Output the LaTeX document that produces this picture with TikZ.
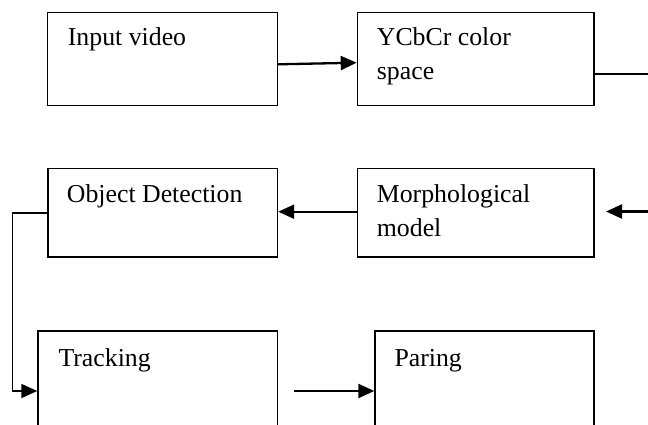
\documentclass[tikz,border=0pt]{standalone}
\usepackage{fontspec}
\setmainfont{Liberation Serif}
\usetikzlibrary{arrows.meta,calc}

\begin{document}
\begin{tikzpicture}[x=1pt,y=-1pt,
  box/.style={draw=black, line width=1.5pt, rectangle, inner sep=0pt, anchor=north west},
  lbl/.style={anchor=base west, inner sep=0pt, font=\fontsize{25.8}{34}\selectfont},
  tip/.style={-{Triangle[length=16pt,width=14pt]}},
  arr/.style={tip, line width=2.3pt},
  plain/.style={line width=1.5pt}]

\useasboundingbox (0,0) rectangle (648,425);
\clip (0,0) rectangle (648,425);

% process boxes
\node[box, minimum width=230pt,   minimum height=93.3pt] (b1) at (46.7,11.7)  {};
\node[box, minimum width=236.6pt, minimum height=93.3pt] (b2) at (356.7,11.7) {};
\node[box, minimum width=229.4pt, minimum height=88pt]   (b3) at (47.3,168)   {};
\node[box, minimum width=236.6pt, minimum height=88pt]   (b4) at (356.7,168)  {};
\node[box, minimum width=239.4pt, minimum height=130pt]  (b5) at (37.3,330)   {};
\node[box, minimum width=219pt,   minimum height=130pt]  (b6) at (374.3,330)  {};

% box captions
\node[lbl] (t1) at ($(b1.north west)+(21,34)$) {Input video};
\node[lbl] (t2) at ($(b2.north west)+(20,34)$) {\vtop{\hbox{YCbCr color}\hbox{space}}};
\node[lbl] (t3) at ($(b3.north west)+(19.4,34)$) {Object Detection};
\node[lbl] (t4) at ($(b4.north west)+(20,34)$) {\vtop{\hbox{Morphological}\hbox{model}}};
\node[lbl] (t5) at ($(b5.north west)+(21,36)$) {Tracking};
\node[lbl] (t6) at ($(b6.north west)+(20,36)$) {Paring};

% free ends and bends of the connectors
\coordinate (outR)  at (648,74);
\coordinate (inR)   at (648,211.5);
\coordinate (inRtip) at (606,211.5);
\coordinate (bendA) at (12.7,213);
\coordinate (bendB) at (12.7,391);
\coordinate (trOut) at (294.3,391);

% connectors
\draw[arr] ($(b1.north east)+(0,52.6)$) -- ($(b2.north west)+(0,51)$);
\draw[plain] ($(b2.north east)+(0,62.3)$) -- (outR);
\draw[arr] (inR) -- (inRtip);
\draw[arr] ($(b4.north west)+(0,43.7)$) -- ($(b3.north east)+(0,43.7)$);
\draw[plain, tip] ($(b3.north west)+(0,45)$) -- (bendA) -- (bendB) -- ($(b5.north west)+(0,61)$);
\draw[arr] (trOut) -- ($(b6.north west)+(0,61)$);

\end{tikzpicture}
\end{document}
